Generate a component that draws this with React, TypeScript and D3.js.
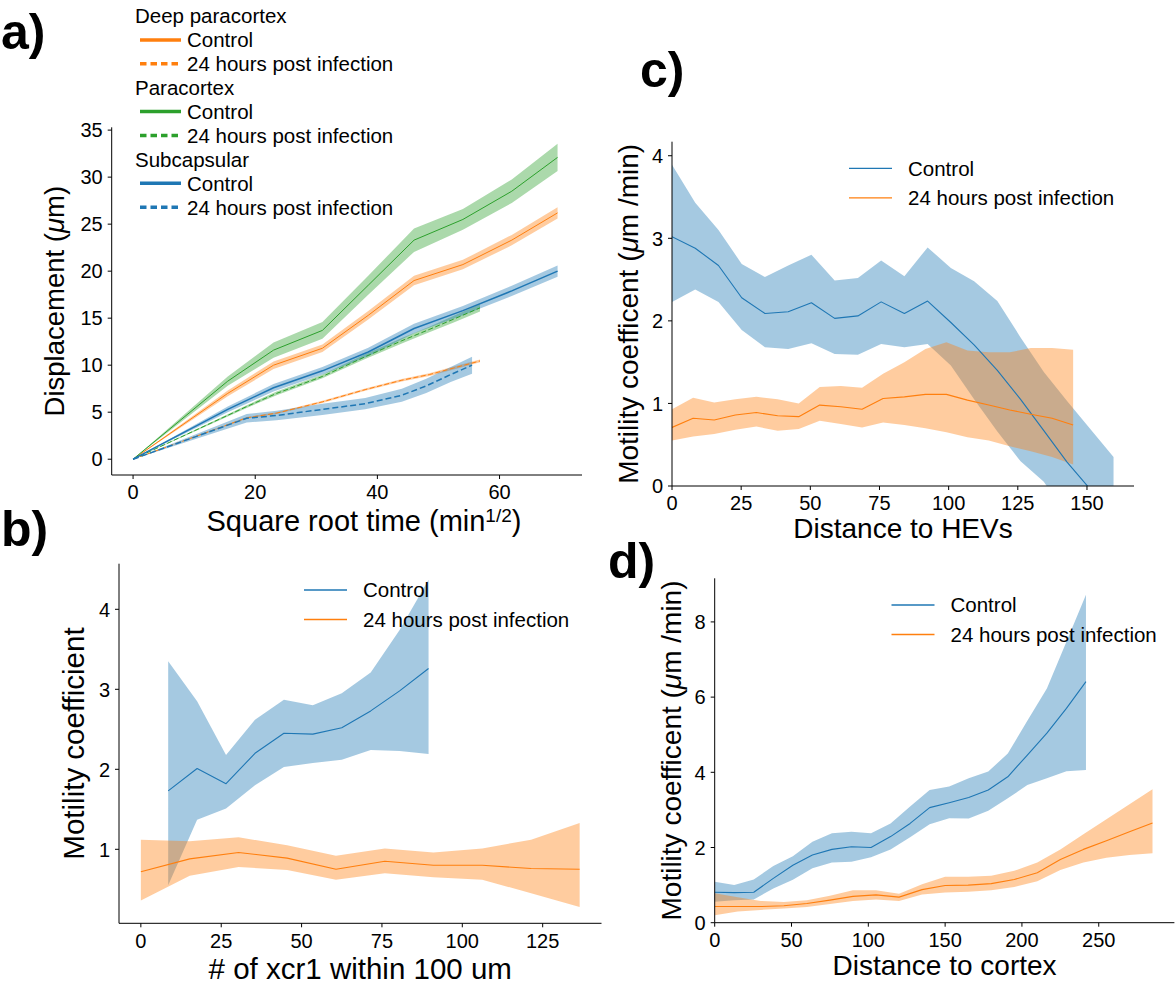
import React from 'react';
import * as d3 from 'd3';

const FONT = "'Liberation Sans', Arial, Helvetica, sans-serif";
const BLUE = '#1f77b4';
const ORANGE = '#ff7f0e';
const GREEN = '#2ca02c';

// ---- a) displacement vs square root time ----
const ctrlTime = [0, 15.5, 23, 31, 38.5, 46, 54, 62, 69.5];
const deepCtrl = [0, 7.0, 10.0, 11.8, 15.3, 19.0, 20.7, 23.3, 26.2];
const deepCtrlSpread = [0, 0.3, 0.4, 0.4, 0.45, 0.5, 0.5, 0.55, 0.6];
const paraCtrl = [0, 8.3, 11.6, 13.7, 18.5, 23.3, 25.5, 28.5, 32.1];
const paraCtrlSpread = [0, 0.5, 0.8, 0.9, 1.0, 1.25, 1.1, 1.25, 1.45];
const subCtrl = [0, 5.3, 7.6, 9.4, 11.4, 13.9, 15.8, 17.9, 20.0];
const subCtrlSpread = [0, 0.3, 0.4, 0.4, 0.45, 0.5, 0.5, 0.55, 0.6];

const infTime = [0, 18.6, 23.5, 31, 38, 44, 48.5, 52.5, 56.8];
const deepInf = [0, 4.4, 4.9, 6.1, 7.4, 8.4, 9.0, 9.7, 10.45];
const deepInfSpread = [0, 0.1, 0.1, 0.12, 0.12, 0.13, 0.14, 0.15, 0.15];
const paraInf = [0, 5.6, 7.0, 8.8, 10.9, 12.6, 13.8, 14.9, 16.1];
const paraInfSpread = [0, 0.15, 0.2, 0.2, 0.25, 0.3, 0.3, 0.35, 0.4];
const subInfTime = [0, 18.6, 23.5, 31, 38, 44, 48, 52, 55.5];
const subInf = [0, 4.35, 4.65, 5.3, 5.9, 6.8, 7.8, 9.0, 10.0];
const subInfSpread = [0, 0.45, 0.5, 0.6, 0.6, 0.7, 0.75, 0.8, 0.9];

const aXTicks = [0, 20, 40, 60];
const aYTicks = [0, 5, 10, 15, 20, 25, 30, 35];

// ---- b) motility vs number of xcr1 cells ----
const bCtrlX = [8.5, 17.5, 26.5, 35.5, 44.5, 53.5, 62.5, 71.5, 80.5, 89.5];
const bCtrlMean = [1.73, 2.01, 1.82, 2.2, 2.45, 2.44, 2.52, 2.73, 2.98, 3.26];
const bCtrlHi = [3.35, 2.85, 2.18, 2.62, 2.87, 2.8, 2.95, 3.21, 3.74, 4.37];
const bCtrlLo = [0.55, 1.37, 1.51, 1.8, 2.03, 2.08, 2.12, 2.24, 2.23, 2.19];
const bInfX = [0, 15.2, 30.4, 45.5, 60.7, 75.9, 91, 106.2, 121.4, 136.5];
const bInfMean = [0.72, 0.88, 0.96, 0.89, 0.75, 0.85, 0.8, 0.8, 0.76, 0.75];
const bInfHi = [1.12, 1.1, 1.15, 1.05, 0.92, 1.01, 0.96, 1.01, 1.12, 1.33];
const bInfLo = [0.36, 0.67, 0.78, 0.74, 0.62, 0.7, 0.65, 0.62, 0.45, 0.28];
const bXTicks = [0, 25, 50, 75, 100, 125];
const bYTicks = [1, 2, 3, 4];

// ---- c) motility vs distance to HEVs ----
const cCtrlX = [0, 8.4, 16.8, 25.2, 33.6, 42, 50.4, 58.8, 67.2, 75.6, 84, 92.4, 100.8, 109.2, 117.6, 126, 134.4, 142.8, 151.2, 159.6];
const cCtrlMean = [3.02, 2.88, 2.67, 2.28, 2.09, 2.11, 2.22, 2.03, 2.06, 2.23, 2.09, 2.24, 1.98, 1.71, 1.4, 1.05, 0.67, 0.29, -0.04, -0.4];
const cCtrlHi = [3.89, 3.43, 3.1, 2.69, 2.53, 2.67, 2.8, 2.49, 2.52, 2.73, 2.54, 2.89, 2.64, 2.48, 2.24, 1.8, 1.38, 1.03, 0.69, 0.35];
const cCtrlLo = [2.23, 2.38, 2.23, 1.89, 1.68, 1.66, 1.73, 1.6, 1.59, 1.72, 1.68, 1.72, 1.46, 1.05, 0.66, 0.3, 0.05, -0.35, -0.75, -1.15];
const cInfX = [0, 7.63, 15.26, 22.9, 30.5, 38.2, 45.8, 53.4, 61, 68.7, 76.3, 84, 91.6, 99.2, 106.8, 114.5, 122.1, 129.7, 137.4, 145];
const cInfMean = [0.71, 0.82, 0.8, 0.86, 0.89, 0.85, 0.84, 0.98, 0.96, 0.93, 1.06, 1.08, 1.11, 1.11, 1.04, 0.98, 0.92, 0.87, 0.82, 0.74];
const cInfHi = [0.93, 1.07, 1.01, 1.05, 1.08, 1.05, 1.0, 1.2, 1.21, 1.19, 1.36, 1.5, 1.66, 1.74, 1.64, 1.62, 1.62, 1.67, 1.67, 1.65];
const cInfLo = [0.55, 0.6, 0.63, 0.68, 0.72, 0.67, 0.69, 0.79, 0.75, 0.71, 0.77, 0.74, 0.7, 0.65, 0.59, 0.55, 0.48, 0.42, 0.35, 0.26];
const cXTicks = [0, 25, 50, 75, 100, 125, 150];
const cYTicks = [0, 1, 2, 3, 4];

// ---- d) motility vs distance to cortex ----
const dCtrlX = [0, 12.72, 25.44, 38.16, 50.88, 63.6, 76.32, 89.04, 101.76, 114.48, 127.2, 139.92, 152.64, 165.36, 178.08, 190.8, 203.52, 216.24, 228.96, 241.68];
const dCtrlMean = [0.81, 0.8, 0.81, 1.18, 1.53, 1.8, 1.95, 2.02, 2.0, 2.29, 2.64, 3.06, 3.19, 3.33, 3.53, 3.88, 4.46, 5.04, 5.7, 6.41];
const dCtrlHi = [1.09, 1.0, 1.15, 1.51, 1.77, 2.15, 2.38, 2.42, 2.38, 2.64, 3.09, 3.53, 3.62, 3.84, 4.02, 4.5, 5.37, 6.23, 7.47, 8.72];
const dCtrlLo = [0.56, 0.6, 0.62, 0.91, 1.14, 1.45, 1.6, 1.62, 1.74, 1.95, 2.27, 2.62, 2.78, 2.77, 2.98, 3.31, 3.66, 3.84, 4.03, 4.06];
const dInfX = [0, 15, 30, 45, 60, 75, 90, 105, 120, 135, 150, 165, 180, 195, 210, 225, 240, 255, 270, 285];
const dInfMean = [0.43, 0.43, 0.43, 0.45, 0.51, 0.6, 0.7, 0.74, 0.68, 0.88, 0.99, 1.0, 1.04, 1.15, 1.33, 1.68, 1.95, 2.18, 2.42, 2.65];
const dInfHi = [0.78, 0.68, 0.58, 0.55, 0.6, 0.72, 0.86, 0.86, 0.77, 1.02, 1.22, 1.22, 1.25, 1.38, 1.6, 1.95, 2.35, 2.75, 3.15, 3.55];
const dInfLo = [0.2, 0.3, 0.34, 0.38, 0.42, 0.5, 0.58, 0.62, 0.58, 0.75, 0.8, 0.82, 0.86, 0.95, 1.1, 1.4, 1.6, 1.73, 1.8, 1.85];
const dXTicks = [0, 50, 100, 150, 200, 250];
const dYTicks = [0, 2, 4, 6, 8];

const legendGroups = ['Deep paracortex', 'Paracortex', 'Subcapsular'];
const legendGroupColors = [ORANGE, GREEN, BLUE];
const conditionLabels = ['Control', '24 hours post infection'];

type Box = { left: number; right: number; top: number; bottom: number };
type Series = {
  x: number[];
  y: number[];
  lo?: number[];
  hi?: number[];
  color: string;
  width: number;
  dash?: string;
};

const spreadBand = (y: number[], s: number[]) => ({
  lo: y.map((v, i) => v - s[i]),
  hi: y.map((v, i) => v + s[i]),
});

function Axes(props: {
  id: string;
  box: Box;
  xDomain: [number, number];
  yDomain: [number, number];
  xTicks: number[];
  yTicks: number[];
  series: Series[];
  xLabel: React.ReactNode;
  yLabel: React.ReactNode;
  yLabelX: number;
  xLabelX?: number;
  xLabelGap?: number;
  xLabelSize?: number;
  yLabelSize?: number;
}) {
  const { id, box, xDomain, yDomain, xTicks, yTicks, series, xLabel, yLabel, yLabelX } = props;
  const xs = d3.scaleLinear().domain(xDomain).range([box.left, box.right]);
  const ys = d3.scaleLinear().domain(yDomain).range([box.bottom, box.top]);
  const line = d3
    .line<[number, number]>()
    .x((d) => xs(d[0]))
    .y((d) => ys(d[1]));
  const area = d3
    .area<[number, number, number]>()
    .x((d) => xs(d[0]))
    .y0((d) => ys(d[1]))
    .y1((d) => ys(d[2]));
  const cy = (box.top + box.bottom) / 2;
  const cx = props.xLabelX ?? (box.left + box.right) / 2;
  return (
    <g>
      <defs>
        <clipPath id={id}>
          <rect x={box.left} y={box.top} width={box.right - box.left} height={box.bottom - box.top} />
        </clipPath>
      </defs>
      <g clipPath={`url(#${id})`}>
        {series.map((s, i) =>
          s.lo && s.hi ? (
            <path
              key={'band' + i}
              d={area(s.x.map((v, j) => [v, s.lo![j], s.hi![j]] as [number, number, number])) || ''}
              fill={s.color}
              fillOpacity={0.4}
              stroke="none"
            />
          ) : null
        )}
        {series.map((s, i) => (
          <path
            key={'line' + i}
            d={line(s.x.map((v, j) => [v, s.y[j]] as [number, number])) || ''}
            fill="none"
            stroke={s.color}
            strokeWidth={s.width}
            strokeDasharray={s.dash}
            strokeLinejoin="round"
          />
        ))}
      </g>
      {/* spines */}
      <line x1={box.left} x2={box.left} y1={box.top} y2={box.bottom} stroke="#000" strokeWidth={1} />
      <line x1={box.left} x2={box.right} y1={box.bottom} y2={box.bottom} stroke="#000" strokeWidth={1} />
      {/* ticks */}
      {xTicks.map((t) => (
        <g key={'xt' + t}>
          <line x1={xs(t)} x2={xs(t)} y1={box.bottom} y2={box.bottom + 4} stroke="#000" strokeWidth={1} />
          <text x={xs(t)} y={box.bottom + 10} dy="0.72em" textAnchor="middle" fontSize={20} fontFamily={FONT}>
            {t}
          </text>
        </g>
      ))}
      {yTicks.map((t) => (
        <g key={'yt' + t}>
          <line x1={box.left - 4} x2={box.left} y1={ys(t)} y2={ys(t)} stroke="#000" strokeWidth={1} />
          <text x={box.left - 9} y={ys(t)} dy="0.36em" textAnchor="end" fontSize={20} fontFamily={FONT}>
            {t}
          </text>
        </g>
      ))}
      <text
        x={cx}
        y={box.bottom + (props.xLabelGap ?? 52)}
        textAnchor="middle"
        fontSize={props.xLabelSize ?? 28}
        fontFamily={FONT}
      >
        {xLabel}
      </text>
      <text
        transform={`translate(${yLabelX},${cy}) rotate(-90)`}
        textAnchor="middle"
        fontSize={props.yLabelSize ?? 28}
        fontFamily={FONT}
      >
        {yLabel}
      </text>
    </g>
  );
}

function Legend(props: { x: number; y: number; entries: { label: string; color: string }[] }) {
  const { x, y, entries } = props;
  return (
    <g>
      {entries.map((e, i) => (
        <g key={e.label}>
          <line x1={x} x2={x + 43} y1={y + i * 29.5} y2={y + i * 29.5} stroke={e.color} strokeWidth={1.3} />
          <text x={x + 59} y={y + i * 29.5} dy="0.36em" fontSize={20.5} fontFamily={FONT}>
            {e.label}
          </text>
        </g>
      ))}
    </g>
  );
}

const PanelLabel = ({ x, y, t }: { x: number; y: number; t: string }) => (
  <text x={x} y={y} fontSize={50} fontWeight="bold" fontFamily={FONT}>
    {t}
  </text>
);

export default function App() {
  const seriesA: Series[] = [
    { x: ctrlTime, y: deepCtrl, ...spreadBand(deepCtrl, deepCtrlSpread), color: ORANGE, width: 1 },
    { x: infTime, y: deepInf, ...spreadBand(deepInf, deepInfSpread), color: ORANGE, width: 1, dash: '5,2.5' },
    { x: ctrlTime, y: paraCtrl, ...spreadBand(paraCtrl, paraCtrlSpread), color: GREEN, width: 1 },
    { x: infTime, y: paraInf, ...spreadBand(paraInf, paraInfSpread), color: GREEN, width: 1, dash: '5,2.5' },
    { x: ctrlTime, y: subCtrl, ...spreadBand(subCtrl, subCtrlSpread), color: BLUE, width: 1.5 },
    { x: subInfTime, y: subInf, ...spreadBand(subInf, subInfSpread), color: BLUE, width: 1.5, dash: '6,3' },
  ];
  const seriesB: Series[] = [
    { x: bCtrlX, y: bCtrlMean, lo: bCtrlLo, hi: bCtrlHi, color: BLUE, width: 1.1 },
    { x: bInfX, y: bInfMean, lo: bInfLo, hi: bInfHi, color: ORANGE, width: 1.1 },
  ];
  const seriesC: Series[] = [
    { x: cCtrlX, y: cCtrlMean, lo: cCtrlLo, hi: cCtrlHi, color: BLUE, width: 1.1 },
    { x: cInfX, y: cInfMean, lo: cInfLo, hi: cInfHi, color: ORANGE, width: 1.1 },
  ];
  const seriesD: Series[] = [
    { x: dCtrlX, y: dCtrlMean, lo: dCtrlLo, hi: dCtrlHi, color: BLUE, width: 1.1 },
    { x: dInfX, y: dInfMean, lo: dInfLo, hi: dInfHi, color: ORANGE, width: 1.1 },
  ];
  const condLegend = [
    { label: conditionLabels[0], color: BLUE },
    { label: conditionLabels[1], color: ORANGE },
  ];
  const mu = <tspan fontStyle="italic">μ</tspan>;

  // grouped legend for the displacement panel: a header per region, then solid / dashed entries
  const rowStep = 23.9;
  const legendRows: React.ReactNode[] = [];
  legendGroups.forEach((g, gi) => {
    const base = 16 + gi * 3 * rowStep;
    legendRows.push(
      <text key={g} x={135} y={base} dy="0.36em" fontSize={20.5} fontFamily={FONT}>
        {g}
      </text>
    );
    conditionLabels.forEach((c, ci) => {
      const yy = base + (ci + 1) * rowStep;
      legendRows.push(
        <g key={g + c}>
          <line
            x1={140}
            x2={181}
            y1={yy}
            y2={yy}
            stroke={legendGroupColors[gi]}
            strokeWidth={3.5}
            strokeDasharray={ci === 1 ? '6.5,4' : undefined}
          />
          <text x={187} y={yy} dy="0.36em" fontSize={20.5} fontFamily={FONT}>
            {c}
          </text>
        </g>
      );
    });
  });

  return (
    <svg
      width={1176}
      height={987}
      viewBox="0 0 1176 987"
      style={{ position: 'absolute', left: 0, top: 0, background: '#fff' }}
    >
      <rect x={0} y={0} width={1176} height={987} fill="#fff" />
      <Axes
        id="clipA"
        box={{ left: 111.7, right: 582, top: 127.3, bottom: 475 }}
        xDomain={[-3.5, 73.5]}
        yDomain={[-1.68, 35.3]}
        xTicks={aXTicks}
        yTicks={aYTicks}
        series={seriesA}
        xLabelX={364}
        xLabelGap={55.5}
        xLabelSize={29}
        yLabelSize={27.5}
        xLabel={
          <>
            <tspan>Square root time (min</tspan>
            <tspan dy={-9} fontSize={19}>
              1/2
            </tspan>
            <tspan dy={9}>)</tspan>
          </>
        }
        yLabel={
          <>
            Displacement ({mu}m)
          </>
        }
        yLabelX={64}
      />
      {legendRows}
      <Axes
        id="clipB"
        box={{ left: 119, right: 601.5, top: 563.7, bottom: 923.3 }}
        xDomain={[-6.8, 143.3]}
        yDomain={[0.075, 4.57]}
        xTicks={bXTicks}
        yTicks={bYTicks}
        series={seriesB}
        xLabelGap={56}
        xLabelSize={29.5}
        yLabelSize={29.5}
        xLabel="# of xcr1 within 100 um"
        yLabel="Motility coefficient"
        yLabelX={84}
      />
      <Legend x={304} y={590} entries={condLegend} />
      <Axes
        id="clipC"
        box={{ left: 672, right: 1134, top: 141.7, bottom: 486 }}
        xDomain={[0, 167]}
        yDomain={[0, 4.17]}
        xTicks={cXTicks}
        yTicks={cYTicks}
        series={seriesC}
        xLabel="Distance to HEVs"
        yLabel={
          <>
            Motility coefficent ({mu}m /min)
          </>
        }
        yLabelX={638}
      />
      <Legend x={849} y={168.3} entries={condLegend} />
      <Axes
        id="clipD"
        box={{ left: 714.7, right: 1174.4, top: 578.3, bottom: 922.7 }}
        xDomain={[0, 299.25]}
        yDomain={[0, 9.16]}
        xTicks={dXTicks}
        yTicks={dYTicks}
        series={seriesD}
        xLabel="Distance to cortex"
        yLabel={
          <>
            Motility coefficent ({mu}m /min)
          </>
        }
        yLabelX={681}
      />
      <Legend x={891.5} y={605} entries={condLegend} />
      <PanelLabel x={1} y={49} t="a)" />
      <PanelLabel x={1} y={546} t="b)" />
      <PanelLabel x={640} y={87} t="c)" />
      <PanelLabel x={608} y={578} t="d)" />
    </svg>
  );
}
